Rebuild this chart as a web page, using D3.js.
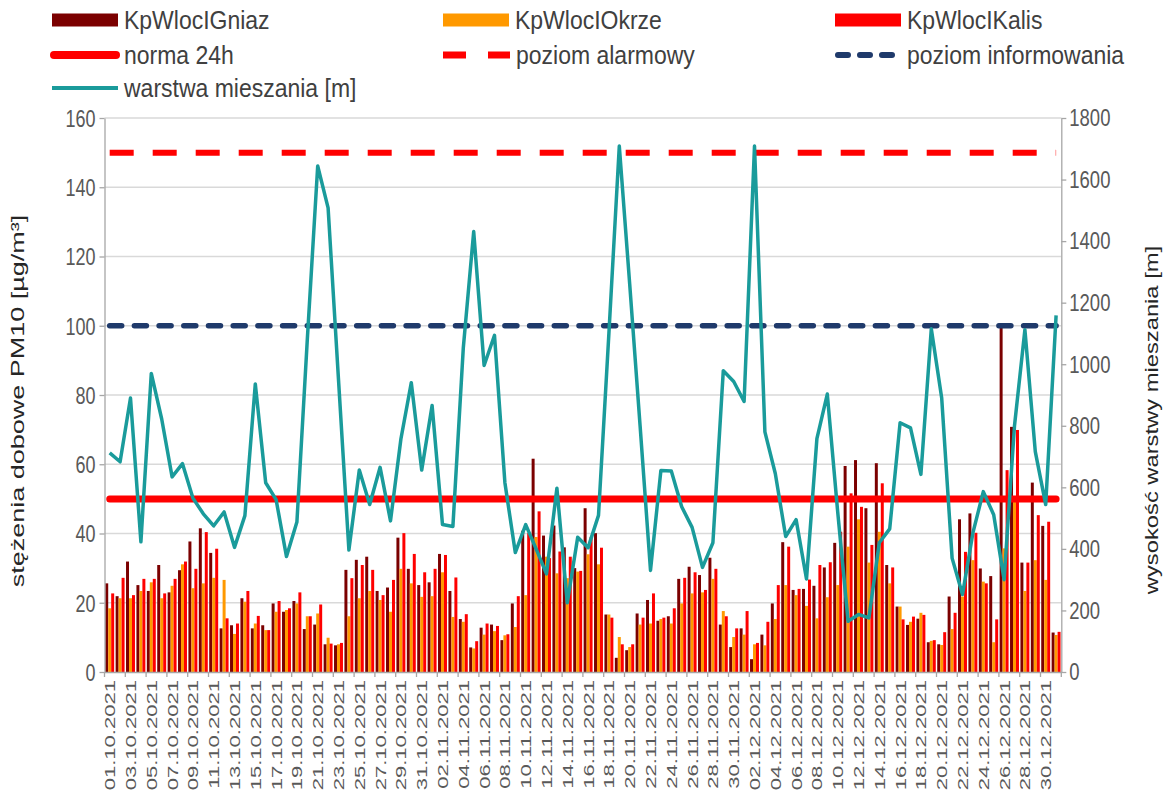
<!DOCTYPE html>
<html><head><meta charset="utf-8">
<script src="https://cdn.jsdelivr.net/npm/d3@7"></script>
<style>body{margin:0;background:#fff}svg{display:block;font-family:"Liberation Sans",Arial,sans-serif}</style>
</head><body><svg id="c" width="1173" height="802"></svg>
<script>
const dates=["01.10.2021","02.10.2021","03.10.2021","04.10.2021","05.10.2021","06.10.2021","07.10.2021","08.10.2021","09.10.2021","10.10.2021",
"11.10.2021","12.10.2021","13.10.2021","14.10.2021","15.10.2021","16.10.2021","17.10.2021","18.10.2021","19.10.2021","20.10.2021",
"21.10.2021","22.10.2021","23.10.2021","24.10.2021","25.10.2021","26.10.2021","27.10.2021","28.10.2021","29.10.2021","30.10.2021","31.10.2021",
"01.11.2021","02.11.2021","03.11.2021","04.11.2021","05.11.2021","06.11.2021","07.11.2021","08.11.2021","09.11.2021","10.11.2021",
"11.11.2021","12.11.2021","13.11.2021","14.11.2021","15.11.2021","16.11.2021","17.11.2021","18.11.2021","19.11.2021","20.11.2021",
"21.11.2021","22.11.2021","23.11.2021","24.11.2021","25.11.2021","26.11.2021","27.11.2021","28.11.2021","29.11.2021","30.11.2021",
"01.12.2021","02.12.2021","03.12.2021","04.12.2021","05.12.2021","06.12.2021","07.12.2021","08.12.2021","09.12.2021","10.12.2021",
"11.12.2021","12.12.2021","13.12.2021","14.12.2021","15.12.2021","16.12.2021","17.12.2021","18.12.2021","19.12.2021","20.12.2021",
"21.12.2021","22.12.2021","23.12.2021","24.12.2021","25.12.2021","26.12.2021","27.12.2021","28.12.2021","29.12.2021","30.12.2021","31.12.2021"];

const gniaz=[25.6,21.9,31.9,25.1,23.4,30.9,23.0,29.4,37.7,41.5,
34.4,12.6,13.5,21.3,12.6,13.5,19.8,17.4,20.5,12.4,
13.7,8.0,7.7,29.5,32.4,33.3,23.4,24.4,38.8,29.8,
25.1,25.9,34.1,23.4,15.3,7.1,12.8,13.7,9.2,19.8,
40.8,61.6,39.4,42.3,36.0,30.0,47.3,40.1,16.6,4.1,
6.3,16.9,20.8,14.8,16.1,26.9,30.4,28.0,33.0,13.7,
7.2,12.6,3.7,10.8,19.8,37.5,23.7,24.0,24.9,30.2,
37.3,59.5,61.2,47.3,60.3,30.9,18.9,13.6,15.4,8.6,
8.0,21.8,44.1,45.8,29.9,27.7,100,70.8,31.6,54.7,
42.2,11.4];
const okrze=[18.4,21.3,21.3,23.4,25.9,21.3,24.9,31.1,24.2,25.6,
27.2,26.6,11.0,20.3,14.0,12.1,17.4,17.9,19.8,16.1,
16.9,9.9,8.0,16.1,21.3,23.4,20.8,17.4,29.8,25.6,
21.7,21.9,28.8,15.9,14.5,6.8,10.8,11.8,10.6,13.0,
22.2,39.0,33.3,28.5,27.1,29.0,34.0,31.1,16.6,10.1,
7.2,13.7,14.0,15.3,14.0,19.8,22.7,23.0,26.9,17.6,
10.1,10.8,8.0,7.7,15.3,25.1,22.2,19.1,15.5,21.6,
25.1,36.2,44.1,31.6,40.5,25.6,18.9,14.5,17.1,9.0,
7.8,12.4,21.8,32.3,26.1,8.6,35.7,49.7,23.4,32.3,
26.6,10.7];
const kalis=[22.7,27.2,22.2,26.9,26.9,22.7,26.9,31.9,29.8,40.4,
35.6,15.5,14.0,23.4,16.2,12.1,20.5,18.4,23.0,16.1,
19.5,8.2,8.4,27.1,30.9,29.5,22.2,26.6,40.1,34.1,
28.8,29.8,33.8,27.3,16.7,8.9,14.0,13.3,10.9,21.9,
40.1,46.4,32.9,34.8,33.3,29.2,39.0,35.9,15.7,8.0,
8.0,15.7,22.7,15.7,18.4,27.2,28.8,23.7,29.8,16.1,
12.6,17.6,8.4,14.5,25.1,36.2,24.0,26.7,30.9,31.7,
40.5,51.6,47.7,36.7,54.5,30.2,15.2,16.0,16.5,9.2,
11.5,17.1,34.7,40.2,25.6,15.2,58.3,69.9,31.6,45.3,
43.4,11.6];
const warstwa=[712,683,890,423,970,822,634,677,565,514,
475,520,405,508,936,615,560,375,487,1080,
1644,1508,950,396,656,544,665,491,757,940,
656,866,479,473,1053,1431,996,1094,615,388,
479,400,319,597,225,438,404,509,1100,1709,
1260,800,330,655,653,537,470,340,420,979,
944,879,1709,780,645,440,495,302,758,903,
520,165,187,176,420,465,810,793,642,1115,
890,370,252,452,586,511,300,800,1112,716,
544,1159];
const normaValue=50, alarmValue=150, infoValue=100;
const leftTicks=[0,20,40,60,80,100,120,140,160];
const rightTicks=[0,200,400,600,800,1000,1200,1400,1600,1800];
const seriesNames=["KpWlocIGniaz","KpWlocIOkrze","KpWlocIKalis"];
const seriesColors=["#7B0000","#FF9900","#FF0000"];
const lineNames=["norma 24h","poziom alarmowy","poziom informowania","warstwa mieszania [m]"];
const leftTitle="stężenia dobowe PM10 [µg/m³]";
const rightTitle="wysokość warstwy  mieszania [m]";

const svg=d3.select("#c");
const X0=104.5,X1=1061.3,Y0=118,Y1=672;
const x=d3.scaleBand().domain(dates).range([X0,X1]).paddingInner(0.14).paddingOuter(0.07);
const step=x.step();
const cx=d=>x(d)+x.bandwidth()/2;
const xs=d3.scaleBand().domain(seriesNames).range([0,x.bandwidth()]);
const yL=d3.scaleLinear().domain([0,160]).range([Y1,Y0]);
const yR=d3.scaleLinear().domain([0,1800]).range([Y1,Y0]);

// gridlines
svg.append("g").selectAll("line").data(leftTicks.filter(t=>t>0)).join("line")
 .attr("x1",X0).attr("x2",X1).attr("y1",d=>yL(d)).attr("y2",d=>yL(d))
 .attr("stroke","#D9D9D9").attr("stroke-width",1.5);

// bars
const series=seriesNames.map((n,k)=>({name:n,values:[gniaz,okrze,kalis][k],color:seriesColors[k]}));
svg.append("g").selectAll("g").data(dates).join("g")
 .attr("transform",d=>`translate(${x(d)},0)`)
 .selectAll("rect").data((d,i)=>series.map(s=>({s:s.name,v:s.values[i],c:s.color}))).join("rect")
 .attr("x",d=>xs(d.s)).attr("y",d=>yL(d.v)).attr("width",xs.bandwidth())
 .attr("height",d=>yL(0)-yL(d.v)).attr("fill",d=>d.c);

// axes
const axisColor="#A6A6A6", labelColor="#595959";
const gl=svg.append("g").attr("transform",`translate(${X0},0)`)
 .call(d3.axisLeft(yL).tickValues(leftTicks).tickSize(5).tickSizeOuter(0));
gl.selectAll("line,path").attr("stroke",axisColor).attr("stroke-width",1.3);
gl.selectAll("text").attr("x",0).attr("dy",null).attr("dominant-baseline","central")
 .attr("transform","translate(-9,0) scale(1,1.3)").attr("font-size",18).attr("fill",labelColor)
 .attr("font-family","Liberation Sans, Arial");

const gr=svg.append("g").attr("transform",`translate(${X1},0)`)
 .call(d3.axisRight(yR).tickValues(rightTicks).tickFormat(d3.format("d")).tickSize(5).tickSizeOuter(0));
gr.selectAll("line,path").attr("stroke",axisColor).attr("stroke-width",1.3);
gr.selectAll("text").attr("x",0).attr("dy",null).attr("dominant-baseline","central")
 .attr("transform","translate(8,0) scale(1,1.3)").attr("font-size",18.5).attr("fill",labelColor)
 .attr("font-family","Liberation Sans, Arial");

const gb=svg.append("g").attr("transform",`translate(0,${Y1})`)
 .call(d3.axisBottom(x).tickValues(dates.filter((d,i)=>i%2===0)).tickSize(0).tickSizeOuter(0));
gb.select("path").attr("stroke",axisColor).attr("stroke-width",1.3);
gb.selectAll("text").attr("x",0).attr("y",0).attr("dy","0.36em").attr("text-anchor","end")
 .attr("transform","translate(0,8) scale(1,1.47) rotate(-90)").attr("font-size",15).attr("fill",labelColor)
 .attr("font-family","Liberation Sans, Arial");
// boundary tick marks every 2 categories
svg.append("g").selectAll("line").data(dates.filter((d,i)=>i%2===0).concat([null])).join("line")
 .attr("x1",d=>d?x(d)-step*x.paddingInner()/2:X1).attr("x2",d=>d?x(d)-step*x.paddingInner()/2:X1)
 .attr("y1",Y1).attr("y2",Y1+5).attr("stroke",axisColor).attr("stroke-width",1.3);

// reference lines
const lineGen=d3.line().x((d,i)=>cx(dates[i])).y(d=>yL(d));
svg.append("path").datum(dates.map(()=>normaValue)).attr("d",lineGen)
 .attr("fill","none").attr("stroke","#FF0000").attr("stroke-width",7).attr("stroke-linecap","round");
svg.append("path").datum(dates.map(()=>alarmValue)).attr("d",lineGen)
 .attr("fill","none").attr("stroke","#FF0000").attr("stroke-width",6).attr("stroke-dasharray","24,19");
svg.append("path").datum(dates.map(()=>infoValue)).attr("d",lineGen)
 .attr("fill","none").attr("stroke","#1F3A6B").attr("stroke-width",5.5).attr("stroke-dasharray","12,12.7").attr("stroke-linecap","round");
svg.append("path").datum(warstwa).attr("d",d3.line().x((d,i)=>cx(dates[i])).y(d=>yR(d)))
 .attr("fill","none").attr("stroke","#1A9B9B").attr("stroke-width",3.5).attr("stroke-linejoin","round");

// axis titles
svg.append("text").attr("transform","translate(24,401) scale(1,1.5) rotate(-90)")
 .attr("text-anchor","middle").attr("font-size",18).attr("fill","#262626").text(leftTitle);
svg.append("text").attr("transform","translate(1158,420) scale(1,1.32) rotate(-90)")
 .attr("text-anchor","middle").attr("font-size",18).attr("fill","#262626").text(rightTitle);

// legend
const lg=svg.append("g");
const colX=[52,443,835], rowY=[20,55,88];
const textAttr=(sel,xp,yp,t)=>sel.append("text").attr("transform",`translate(${xp},${yp}) scale(1,1.1)`)
 .attr("dominant-baseline","central").attr("font-size",23).attr("fill","#404040").text(t);
seriesNames.forEach((n,k)=>{
  lg.append("rect").attr("x",colX[k]).attr("y",rowY[0]-6.5).attr("width",66).attr("height",13).attr("fill",seriesColors[k]);
  textAttr(lg,colX[k]+72,rowY[0],n);
});
lg.append("line").attr("x1",colX[0]+2).attr("x2",colX[0]+64).attr("y1",rowY[1]).attr("y2",rowY[1])
 .attr("stroke","#FF0000").attr("stroke-width",8).attr("stroke-linecap","round");
textAttr(lg,colX[0]+72,rowY[1],lineNames[0]);
lg.append("line").attr("x1",colX[1]).attr("x2",colX[1]+67).attr("y1",rowY[1]).attr("y2",rowY[1])
 .attr("stroke","#FF0000").attr("stroke-width",7).attr("stroke-dasharray","23,22");
textAttr(lg,colX[1]+73,rowY[1],lineNames[1]);
lg.append("line").attr("x1",colX[2]+3).attr("x2",colX[2]+62).attr("y1",rowY[1]).attr("y2",rowY[1])
 .attr("stroke","#1F3A6B").attr("stroke-width",6).attr("stroke-dasharray","10,12").attr("stroke-linecap","round");
textAttr(lg,colX[2]+72,rowY[1],lineNames[2]);
lg.append("line").attr("x1",colX[0]).attr("x2",colX[0]+66).attr("y1",rowY[2]).attr("y2",rowY[2])
 .attr("stroke","#1A9B9B").attr("stroke-width",4);
textAttr(lg,colX[0]+72,rowY[2],lineNames[3]);
</script></body></html>
